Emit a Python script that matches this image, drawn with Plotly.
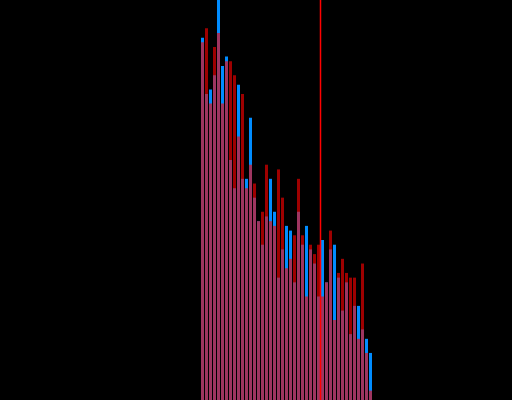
import plotly.graph_objects as go

bins = list(range(43))
blue_counts = [77, 65, 66, 69, 90, 71, 73, 51, 45, 67, 47, 47, 60, 43, 38, 33, 39, 47, 40, 26,
               32, 37, 36, 25, 40, 33, 37, 32, 29, 22, 34, 25, 32, 33, 26, 19, 25, 14, 20, 20,
               15, 13, 10]
red_counts = [76, 79, 63, 75, 78, 63, 72, 72, 69, 56, 65, 45, 50, 46, 38, 40, 50, 38, 37, 49,
              43, 28, 30, 35, 47, 35, 22, 33, 31, 33, 22, 25, 36, 17, 27, 30, 27, 26, 26, 13,
              29, 10, 2]
marker_x = 29.5

fig = go.Figure()
fig.add_trace(go.Bar(x=bins, y=blue_counts, marker=dict(color="rgb(0,140,255)", line=dict(width=0))))
fig.add_trace(go.Bar(x=bins, y=red_counts, opacity=0.62,
                     marker=dict(color="rgb(255,0,0)", line=dict(width=0))))
fig.add_shape(type="line", x0=marker_x, x1=marker_x, y0=0, y1=1, yref="paper", xref="x",
              line=dict(color="rgb(255,0,0)", width=1.5), layer="above")
fig.update_layout(
    width=512, height=400,
    margin=dict(l=0, r=0, t=0, b=0),
    paper_bgcolor="black", plot_bgcolor="black",
    barmode="overlay", bargap=0.25, showlegend=False,
    xaxis=dict(range=[-50.625, 77.375], visible=False, showgrid=False, zeroline=False),
    yaxis=dict(range=[0, 85], visible=False, showgrid=False, zeroline=False),
)
fig.write_html("out.html", config={"displayModeBar": False},
               post_script="document.body.style.margin='0';document.body.style.background='black';document.body.style.overflow='hidden';")
